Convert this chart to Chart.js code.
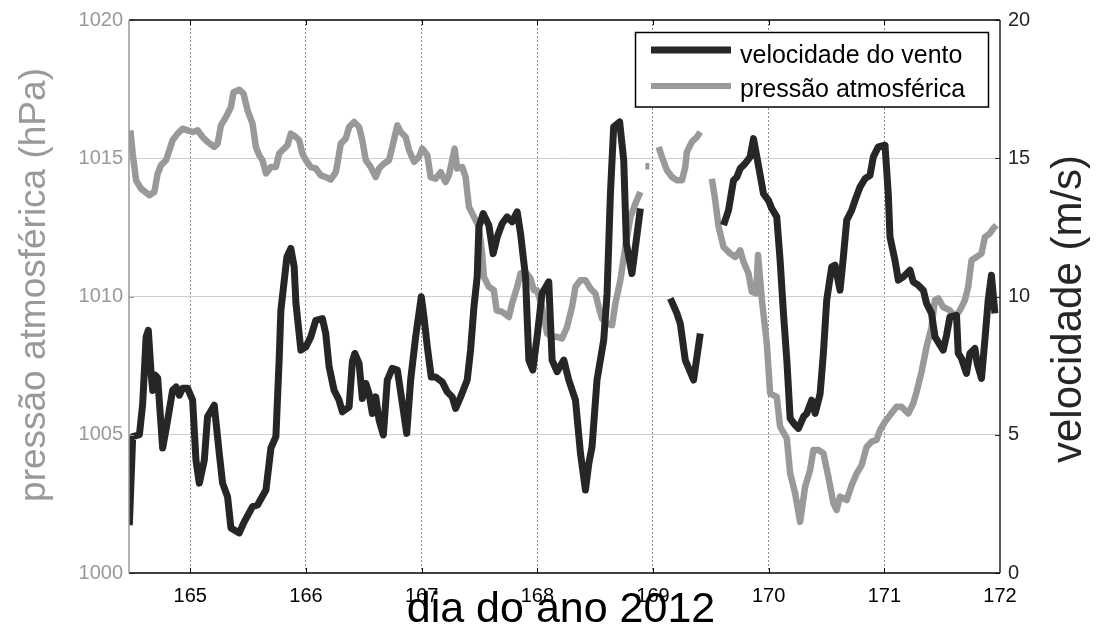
<!DOCTYPE html>
<html lang="pt">
<head>
<meta charset="utf-8">
<title>Velocidade do vento e pressão atmosférica</title>
<script src="https://cdn.jsdelivr.net/npm/chart.js@4.4.1/dist/chart.umd.min.js"></script>
<style>
  html, body { margin: 0; padding: 0; background: #fff; }
  #grafico { display: block; }
</style>
</head>
<body>
<canvas id="grafico" width="1097" height="626"></canvas>
<script>
// dia do ano (fração do dia) e velocidade do vento (m/s); null = falha no registro
const diasVento = [
  164.473, 164.502, 164.560, 164.588, 164.618, 164.637, 164.661, 164.675, 164.695, 164.718,
  164.761, 164.804, 164.847, 164.877, 164.905, 164.934, 164.977, 165.020, 165.049, 165.078,
  165.121, 165.149, 165.207, 165.250, 165.279, 165.322, 165.351, 165.423, 165.466, 165.538,
  165.581, 165.654, 165.697, 165.740, 165.768, 165.783, 165.835, 165.869, 165.898, 165.913,
  165.956, 165.999, 166.042, 166.085, 166.142, 166.171, 166.200, 166.243, 166.286, 166.315,
  166.373, 166.401, 166.422, 166.459, 166.487, 166.517, 166.545, 166.574, 166.603, 166.632,
  166.669, 166.703, 166.746, 166.790, 166.833, 166.871, 166.905, 166.948, 166.997, 167.020,
  167.049, 167.083, 167.121, 167.178, 167.221, 167.264, 167.294, 167.337, 167.394, 167.423,
  167.452, 167.480, 167.495, 167.532, 167.581, 167.618, 167.653, 167.696, 167.739, 167.782,
  167.826, 167.855, 167.898, 167.927, 167.961, 167.998, 168.041, 168.099, 168.128, 168.171,
  168.229, 168.272, 168.330, 168.373, 168.416, 168.445, 168.473, 168.516, 168.574, 168.603,
  168.632, 168.660, 168.712, 168.747, 168.770, 168.818, 168.848, 168.891, 169.020, 169.150,
  169.207, 169.236, 169.279, 169.351, 169.409, 169.500, 169.610, 169.653, 169.696, 169.725,
  169.754, 169.797, 169.840, 169.869, 169.898, 169.927, 169.955, 169.998, 170.027, 170.070,
  170.099, 170.128, 170.157, 170.186, 170.229, 170.258, 170.301, 170.329, 170.372, 170.402,
  170.445, 170.473, 170.502, 170.545, 170.574, 170.617, 170.646, 170.675, 170.718, 170.747,
  170.790, 170.833, 170.876, 170.905, 170.948, 171.006, 171.034, 171.049, 171.092, 171.121,
  171.164, 171.222, 171.250, 171.293, 171.337, 171.365, 171.408, 171.438, 171.509, 171.538,
  171.567, 171.624, 171.639, 171.667, 171.710, 171.740, 171.783, 171.803, 171.840, 171.869,
  171.898, 171.926, 171.956
];
const velocidadeVento = [
  1.73, 4.93, 5.00, 6.10, 8.54, 8.78, 7.23, 6.60, 7.16, 7.05,
  4.52, 5.53, 6.61, 6.73, 6.43, 6.68, 6.68, 6.25, 4.08, 3.25,
  4.08, 5.65, 6.07, 4.34, 3.25, 2.76, 1.63, 1.45, 1.85, 2.40,
  2.46, 3.00, 4.52, 4.93, 7.70, 9.50, 11.43, 11.74, 11.07, 9.76,
  8.06, 8.18, 8.54, 9.14, 9.20, 8.66, 7.46, 6.61, 6.25, 5.83,
  6.01, 7.64, 7.94, 7.58, 6.31, 6.86, 6.49, 5.77, 6.37, 5.53,
  4.99, 6.98, 7.40, 7.34, 6.13, 5.05, 6.98, 8.54, 9.99, 9.26,
  8.18, 7.09, 7.09, 6.91, 6.55, 6.37, 5.95, 6.37, 6.98, 8.06,
  9.62, 10.71, 12.52, 13.00, 12.58, 11.55, 12.15, 12.64, 12.88, 12.70,
  13.06, 12.28, 10.71, 7.70, 7.34, 8.54, 10.11, 10.53, 7.70, 7.28,
  7.70, 6.98, 6.25, 4.33, 3.00, 3.96, 4.56, 6.98, 8.42, 10.11,
  13.72, 16.13, 16.31, 14.93, 11.92, 10.83, 11.79, 13.18, null, 9.93,
  9.39, 9.02, 7.70, 6.98, 8.66, null, 12.58, 13.12, 14.20, 14.32,
  14.63, 14.81, 15.05, 15.71, 15.05, 14.38, 13.72, 13.48, 13.18, 12.88,
  11.31, 9.39, 7.70, 5.59, 5.35, 5.23, 5.65, 5.77, 6.25, 5.77,
  6.49, 7.94, 9.87, 11.07, 11.13, 10.23, 11.43, 12.76, 13.12, 13.48,
  13.96, 14.26, 14.38, 15.05, 15.41, 15.47, 13.72, 12.15, 11.31, 10.59,
  10.71, 10.95, 10.53, 10.41, 10.23, 9.75, 9.39, 8.54, 8.06, 8.60,
  9.26, 9.32, 7.94, 7.76, 7.22, 7.94, 8.12, 7.58, 7.04, 8.42,
  9.87, 10.77, 9.39
];

// dia do ano e pressão atmosférica (hPa)
const diasPressao = [
  164.482, 164.502, 164.531, 164.574, 164.646, 164.689, 164.718, 164.747, 164.790, 164.819,
  164.847, 164.890, 164.934, 164.977, 165.020, 165.063, 165.106, 165.149, 165.207, 165.236,
  165.265, 165.308, 165.351, 165.374, 165.423, 165.460, 165.495, 165.538, 165.567, 165.596,
  165.624, 165.654, 165.697, 165.740, 165.768, 165.811, 165.840, 165.869, 165.913, 165.941,
  165.969, 165.999, 166.042, 166.085, 166.128, 166.171, 166.215, 166.258, 166.272, 166.301,
  166.344, 166.373, 166.416, 166.459, 166.487, 166.517, 166.560, 166.603, 166.632, 166.675,
  166.718, 166.746, 166.790, 166.819, 166.862, 166.891, 166.934, 166.977, 167.005, 167.049,
  167.078, 167.121, 167.164, 167.207, 167.236, 167.264, 167.285, 167.308, 167.351, 167.380,
  167.409, 167.452, 167.495, 167.523, 167.538, 167.581, 167.624, 167.648, 167.696, 167.754,
  167.782, 167.826, 167.855, 167.898, 167.941, 167.970, 167.998, 168.041, 168.085, 168.128,
  168.171, 168.214, 168.257, 168.300, 168.330, 168.373, 168.416, 168.459, 168.502, 168.531,
  168.559, 168.603, 168.646, 168.675, 168.718, 168.761, 168.805, 168.848, 168.891, 168.912,
  168.934, 168.968, 169.010, 169.049, 169.077, 169.121, 169.164, 169.207, 169.250, 169.279,
  169.293, 169.336, 169.380, 169.409, 169.460, 169.509, 169.538, 169.567, 169.610, 169.668,
  169.711, 169.754, 169.783, 169.826, 169.854, 169.892, 169.908, 169.941, 169.984, 170.013,
  170.070, 170.099, 170.157, 170.186, 170.229, 170.272, 170.315, 170.358, 170.387, 170.430,
  170.473, 170.516, 170.560, 170.588, 170.617, 170.675, 170.718, 170.761, 170.804, 170.847,
  170.890, 170.933, 170.963, 171.006, 171.049, 171.106, 171.149, 171.207, 171.250, 171.279,
  171.322, 171.365, 171.408, 171.438, 171.466, 171.509, 171.567, 171.610, 171.653, 171.697,
  171.725, 171.754, 171.797, 171.840, 171.869, 171.912, 171.941, 171.969
];
const pressaoAtm = [
  1016.01, 1015.17, 1014.20, 1013.90, 1013.66, 1013.78, 1014.45, 1014.75, 1014.93, 1015.29,
  1015.65, 1015.89, 1016.07, 1016.01, 1015.95, 1016.01, 1015.77, 1015.59, 1015.41, 1015.53,
  1016.19, 1016.49, 1016.85, 1017.39, 1017.48, 1017.34, 1016.73, 1016.25, 1015.41, 1015.11,
  1014.93, 1014.45, 1014.68, 1014.68, 1015.17, 1015.35, 1015.47, 1015.89, 1015.77, 1015.65,
  1015.17, 1014.93, 1014.68, 1014.63, 1014.38, 1014.32, 1014.23, 1014.50, 1014.81, 1015.53,
  1015.71, 1016.13, 1016.31, 1016.13, 1015.65, 1014.93, 1014.68, 1014.32, 1014.63, 1014.81,
  1014.93, 1015.41, 1016.19, 1015.95, 1015.77, 1015.29, 1014.87, 1015.05, 1015.35, 1015.11,
  1014.32, 1014.26, 1014.50, 1014.14, 1014.38, 1014.93, 1015.35, 1014.63, 1014.68, 1014.32,
  1013.24, 1012.88, 1012.52, 1011.55, 1010.71, 1010.35, 1010.23, 1009.50, 1009.44, 1009.26,
  1009.75, 1010.35, 1010.83, 1010.89, 1010.65, 1010.23, 1010.23, 1009.62, 1008.66, 1008.54,
  1008.54, 1008.48, 1008.90, 1009.62, 1010.35, 1010.59, 1010.59, 1010.29, 1010.11, 1009.62,
  1009.20, 1009.02, 1008.96, 1009.75, 1010.59, 1011.79, 1012.88, 1013.36, 1013.78, null,
  1014.71, 1014.71, null, 1015.41, 1015.05, 1014.56, 1014.32, 1014.20, 1014.20, 1014.68,
  1015.23, 1015.59, 1015.77, 1015.95, null, 1014.26, 1013.48, 1012.52, 1011.79, 1011.55,
  1011.43, 1011.67, 1011.25, 1010.83, 1010.17, 1010.11, 1011.50, 1009.90, 1008.30, 1006.49,
  1006.37, 1005.29, 1004.87, 1003.60, 1002.88, 1001.85, 1003.12, 1003.72, 1004.45, 1004.45,
  1004.33, 1003.48, 1002.52, 1002.28, 1002.76, 1002.64, 1003.18, 1003.60, 1003.90, 1004.56,
  1004.75, 1004.81, 1005.17, 1005.47, 1005.71, 1006.01, 1006.01, 1005.77, 1006.13, 1006.55,
  1007.28, 1008.18, 1008.90, 1009.87, 1009.93, 1009.62, 1009.50, 1009.26, 1009.50, 1009.87,
  1010.35, 1011.31, 1011.43, 1011.55, 1012.15, 1012.28, 1012.46, 1012.58
];

// marcas dos eixos
const ticksDia = [165, 166, 167, 168, 169, 170, 171, 172];
const ticksPressao = [1000, 1005, 1010, 1015, 1020];
const ticksVelocidade = [0, 5, 10, 15, 20];

const FONTE = '"Liberation Sans", Arial, sans-serif';
const COR_VENTO = '#262626';
const COR_PRESSAO = '#999999';

function pares(xs, ys) {
  return xs.map((x, i) => ({ x, y: ys[i] }));
}

function fixarTicks(lista) {
  return (scale) => { scale.ticks = lista.map((v) => ({ value: v })); };
}

// moldura da área do gráfico, marcas internas, títulos dos eixos e legenda
const moldura = {
  id: 'moldura',
  afterDatasetsDraw(chart) {
    const { ctx, chartArea: a, scales } = chart;
    const { x, y, y1 } = scales;
    ctx.save();

    ctx.lineWidth = 1;
    ctx.strokeStyle = '#000';
    ticksDia.forEach((d) => {
      const px = Math.round(x.getPixelForValue(d)) + 0.5;
      if (px > a.right - 2) return;
      ctx.beginPath();
      ctx.moveTo(px, a.bottom); ctx.lineTo(px, a.bottom - 5);
      ctx.moveTo(px, a.top); ctx.lineTo(px, a.top + 5);
      ctx.stroke();
    });
    ctx.strokeStyle = COR_PRESSAO;
    ticksPressao.forEach((v) => {
      const py = Math.round(y.getPixelForValue(v)) + 0.5;
      ctx.beginPath(); ctx.moveTo(a.left, py); ctx.lineTo(a.left + 5, py); ctx.stroke();
    });
    ctx.strokeStyle = COR_VENTO;
    ticksVelocidade.forEach((v) => {
      const py = Math.round(y1.getPixelForValue(v)) + 0.5;
      ctx.beginPath(); ctx.moveTo(a.right, py); ctx.lineTo(a.right - 5, py); ctx.stroke();
    });

    ctx.lineWidth = 1.5;
    ctx.strokeStyle = '#000';
    ctx.beginPath(); ctx.moveTo(a.left, a.top); ctx.lineTo(a.right, a.top); ctx.stroke();
    ctx.beginPath(); ctx.moveTo(a.left, a.bottom); ctx.lineTo(a.right, a.bottom); ctx.stroke();
    ctx.strokeStyle = COR_PRESSAO;
    ctx.beginPath(); ctx.moveTo(a.left, a.top); ctx.lineTo(a.left, a.bottom); ctx.stroke();
    ctx.strokeStyle = COR_VENTO;
    ctx.beginPath(); ctx.moveTo(a.right, a.top); ctx.lineTo(a.right, a.bottom); ctx.stroke();

    // legenda
    const lx = 635.5, ly = 32.5, lw = 353, lh = 74.5;
    ctx.fillStyle = '#fff';
    ctx.fillRect(lx, ly, lw, lh);
    ctx.lineWidth = 1.5;
    ctx.strokeStyle = '#000';
    ctx.strokeRect(lx, ly, lw, lh);
    ctx.lineWidth = 7;
    ctx.strokeStyle = COR_VENTO;
    ctx.beginPath(); ctx.moveTo(651, 50); ctx.lineTo(731, 50); ctx.stroke();
    ctx.lineWidth = 6;
    ctx.strokeStyle = COR_PRESSAO;
    ctx.beginPath(); ctx.moveTo(651, 86); ctx.lineTo(731, 86); ctx.stroke();
    ctx.fillStyle = '#000';
    ctx.font = '25px ' + FONTE;
    ctx.textAlign = 'left';
    ctx.textBaseline = 'alphabetic';
    ctx.fillText('velocidade do vento', 740, 63);
    ctx.fillText('pressão atmosférica', 740, 97);

    // títulos dos eixos
    ctx.textAlign = 'center';
    ctx.font = '43px ' + FONTE;
    ctx.fillStyle = '#000';
    ctx.fillText('dia do ano 2012', 561, 622);

    ctx.save();
    ctx.translate(45, 285);
    ctx.rotate(-Math.PI / 2);
    ctx.font = '37px ' + FONTE;
    ctx.fillStyle = COR_PRESSAO;
    ctx.fillText('pressão atmosférica (hPa)', 0, 0);
    ctx.restore();

    ctx.save();
    ctx.translate(1081, 309);
    ctx.rotate(-Math.PI / 2);
    ctx.font = '42px ' + FONTE;
    ctx.fillStyle = COR_VENTO;
    ctx.fillText('velocidade (m/s)', 0, 0);
    ctx.restore();

    ctx.restore();
  }
};

new Chart(document.getElementById('grafico'), {
  type: 'line',
  data: {
    datasets: [
      {
        label: 'velocidade do vento',
        data: pares(diasVento, velocidadeVento),
        yAxisID: 'y1',
        borderColor: COR_VENTO,
        borderWidth: 7,
        clip: 0
      },
      {
        label: 'pressão atmosférica',
        data: pares(diasPressao, pressaoAtm),
        yAxisID: 'y',
        borderColor: COR_PRESSAO,
        borderWidth: 6.5,
        clip: 0
      }
    ]
  },
  options: {
    responsive: false,
    animation: false,
    events: [],
    layout: { padding: { top: 20, left: 0, right: 0, bottom: 0 } },
    elements: {
      point: { radius: 0 },
      line: { tension: 0, spanGaps: false, borderCapStyle: 'butt', borderJoinStyle: 'round', fill: false }
    },
    plugins: { legend: { display: false }, tooltip: { enabled: false } },
    scales: {
      x: {
        type: 'linear',
        min: 164.47,
        max: 172,
        afterBuildTicks: fixarTicks(ticksDia),
        afterFit: (s) => { s.height = 53; },
        grid: {
          drawTicks: false,
          lineWidth: 1,
          color: (c) => (c.tick && c.tick.value >= 172 ? 'rgba(0,0,0,0)' : '#8a8a8a')
        },
        border: { display: false, dash: [2, 2] },
        ticks: {
          padding: 11,
          maxRotation: 0,
          autoSkip: false,
          color: '#000',
          font: { family: FONTE, size: 20 },
          callback: (v) => String(v)
        }
      },
      y: {
        position: 'left',
        min: 1000,
        max: 1020,
        afterBuildTicks: fixarTicks(ticksPressao),
        afterFit: (s) => { s.width = 129; },
        grid: {
          drawTicks: false,
          lineWidth: 1,
          color: (c) => (c.tick && (c.tick.value === 1000 || c.tick.value === 1020) ? 'rgba(0,0,0,0)' : '#cfcfcf')
        },
        border: { display: false },
        ticks: {
          padding: 6,
          color: COR_PRESSAO,
          font: { family: FONTE, size: 20 },
          callback: (v) => String(v)
        }
      },
      y1: {
        position: 'right',
        min: 0,
        max: 20,
        afterBuildTicks: fixarTicks(ticksVelocidade),
        afterFit: (s) => { s.width = 97; },
        grid: { display: false, drawTicks: false },
        border: { display: false },
        ticks: {
          padding: 8,
          color: COR_VENTO,
          font: { family: FONTE, size: 20 },
          callback: (v) => String(v)
        }
      }
    }
  },
  plugins: [moldura]
});
</script>
</body>
</html>
